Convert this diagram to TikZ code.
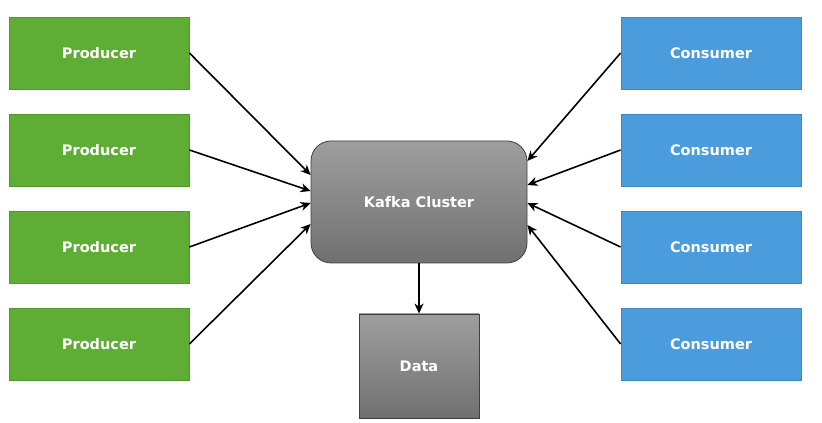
\documentclass[tikz,border=0pt]{standalone}
\usepackage{fontspec}
\setmainfont{DejaVu Sans}
\usetikzlibrary{arrows.meta,positioning}
\definecolor{prodgreen}{RGB}{94,173,53}
\definecolor{prodborder}{RGB}{80,150,45}
\definecolor{consblue}{RGB}{74,156,220}
\definecolor{consborder}{RGB}{62,135,195}
\tikzset{
  x=1pt,y=1pt,
  lbl/.style={text=white,font=\bfseries\fontsize{14.5}{17}\selectfont},
  prodbox/.style={lbl,draw=prodborder,fill=prodgreen,minimum width=180pt,minimum height=72pt,inner sep=0pt,line width=0.8pt},
  consbox/.style={lbl,draw=consborder,fill=consblue,minimum width=180pt,minimum height=72pt,inner sep=0pt,line width=0.8pt},
  kafkabox/.style={lbl,draw=black!75,top color=black!38,bottom color=black!56,rounded corners=20pt,minimum width=216pt,minimum height=122pt,inner sep=0pt,line width=0.8pt},
  databox/.style={lbl,draw=black!75,top color=black!38,bottom color=black!56,minimum width=120pt,minimum height=104pt,inner sep=0pt,line width=0.8pt},
  conn/.style={line width=1.6pt,-{Stealth[length=10pt,width=9pt,inset=3pt]}}
}
\begin{document}
\begin{tikzpicture}
\useasboundingbox (0,0) rectangle (822,423);
\node[prodbox] (p1) at (99,370) {Producer};
\node[prodbox] (p2) at (99,273) {Producer};
\node[prodbox] (p3) at (99,176) {Producer};
\node[prodbox] (p4) at (99,79) {Producer};
\node[consbox] (c1) at (711,370) {Consumer};
\node[consbox] (c2) at (711,273) {Consumer};
\node[consbox] (c3) at (711,176) {Consumer};
\node[consbox] (c4) at (711,79) {Consumer};
\node[kafkabox] (k) at (419,221) {Kafka Cluster};
\node[databox] (d) at (419,57) {Data};
\draw[conn] (p1.east) -- ([yshift=27pt]k.west);
\draw[conn] (p2.east) -- ([yshift=11pt]k.west);
\draw[conn] (p3.east) -- ([yshift=-1pt]k.west);
\draw[conn] (p4.east) -- ([yshift=-22pt]k.west);
\draw[conn] (c1.west) -- ([yshift=41pt]k.east);
\draw[conn] (c2.west) -- ([yshift=17pt]k.east);
\draw[conn] (c3.west) -- ([yshift=-1pt]k.east);
\draw[conn] (c4.west) -- ([yshift=-23pt]k.east);
\draw[conn] (k.south) -- (d.north);
\end{tikzpicture}
\end{document}
